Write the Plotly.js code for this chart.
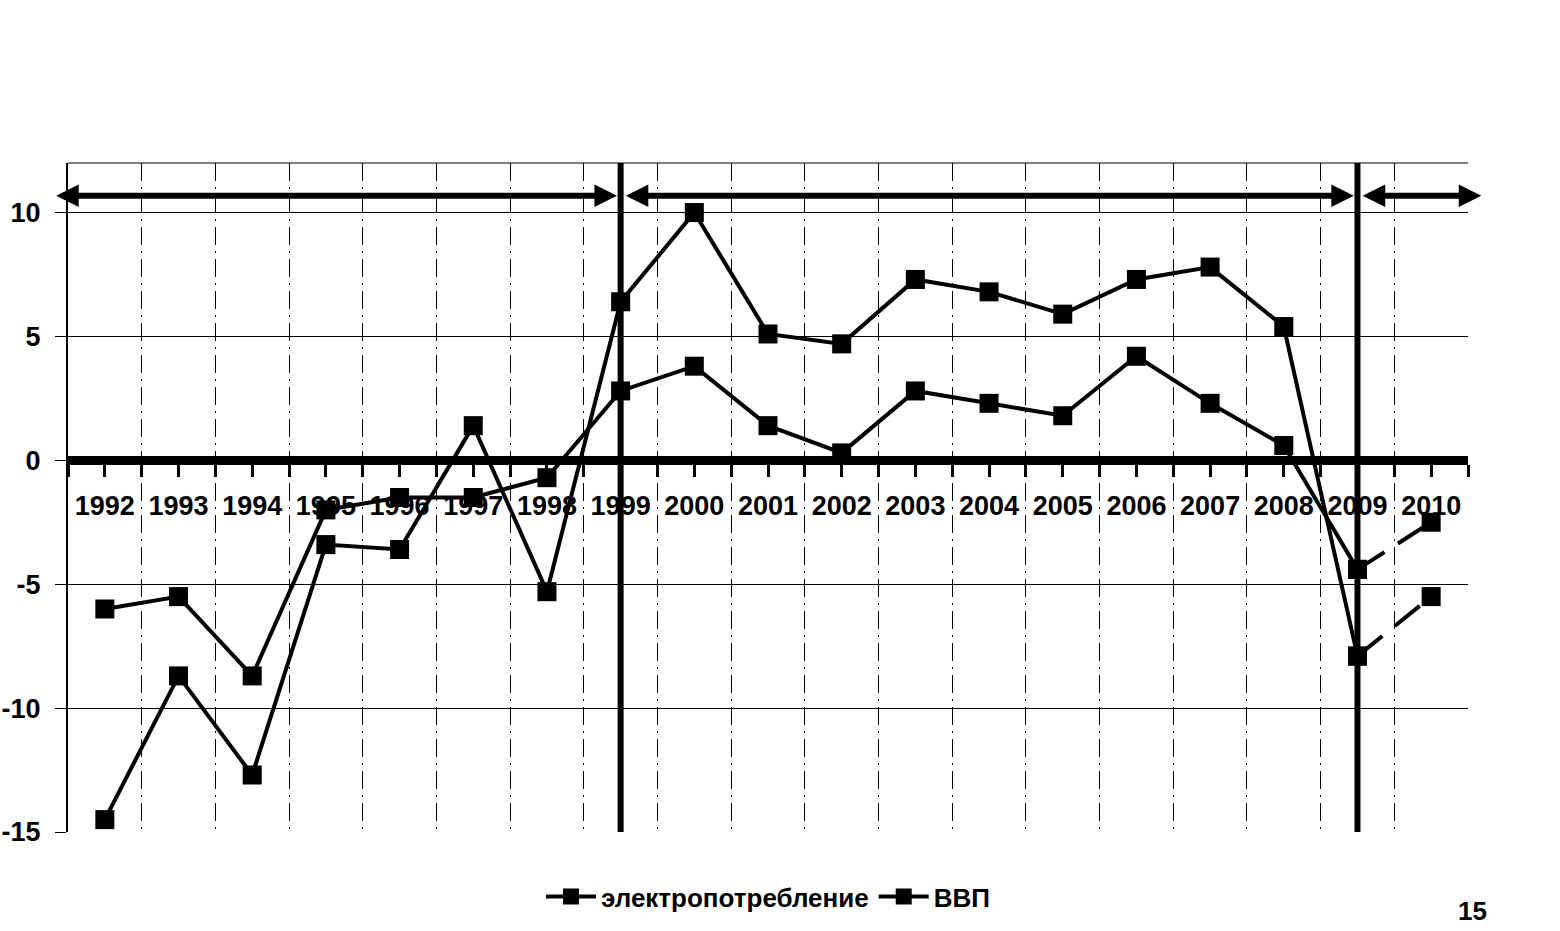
<!DOCTYPE html>
<html><head><meta charset="utf-8">
<script src="https://cdn.plot.ly/plotly-3.0.1.min.js"></script>
<style>html,body{margin:0;padding:0;background:#fff}#chart{width:1560px;height:931px}</style>
</head><body><div id="chart"></div>
<script>
// ---- data ----
const years = [1992,1993,1994,1995,1996,1997,1998,1999,2000,2001,2002,2003,2004,2005,2006,2007,2008,2009,2010];
const yearLabels = years.map(String);
const elec = [-6.0,-5.5,-8.7,-2.0,-1.5,-1.5,-0.7,2.8,3.8,1.4,0.3,2.8,2.3,1.8,4.2,2.3,0.6,-4.4,-2.5];
const gdp  = [-14.5,-8.7,-12.7,-3.4,-3.6,1.4,-5.3,6.4,10.0,5.1,4.7,7.3,6.8,5.9,7.3,7.8,5.4,-7.9,-5.5];
const seriesNames = ['электропотребление','ВВП'];
const periodMarks = [1999, 2009];
const yTicks = [-15,-10,-5,0,5,10];
const pageNumber = '15';

// ---- styling ----
const FONT = 'Liberation Sans Narrow, Arial Narrow, Liberation Sans, Arial, sans-serif';
const nSolid = years.length - 1; // last segment (forecast) dashed
const boundaries = years.map(y => y - 0.5).concat([years[years.length-1] + 0.5]);

function solid(name, vals, show) {
  return {x: years.slice(0, nSolid), y: vals.slice(0, nSolid), name: name, showlegend: show,
    type: 'scatter', mode: 'lines+markers', cliponaxis: false,
    line: {color: '#000', width: 4}, marker: {symbol: 'square', size: 19, color: '#000'}};
}
function dashed(name, vals) {
  return {x: years.slice(nSolid - 1), y: vals.slice(nSolid - 1), name: name, showlegend: false,
    type: 'scatter', mode: 'lines+markers', cliponaxis: false,
    line: {color: '#000', width: 4, dash: '32px,16px'}, marker: {symbol: 'square', size: 19, color: '#000'}};
}
const traces = [solid(seriesNames[0], elec, true), solid(seriesNames[1], gdp, true),
                dashed(seriesNames[0], elec), dashed(seriesNames[1], gdp)];

const xMin = years[0] - 0.5, xMax = years[years.length-1] + 0.5;
const yMin = -15, yMax = 12;
const arrowY = 10.68;

const shapes = [
  {type: 'line', xref: 'paper', yref: 'paper', x0: 0, x1: 1, y0: 1, y1: 1, line: {color: '#000', width: 1}},
];
periodMarks.forEach(p => shapes.push({type: 'line', x0: p, x1: p, y0: yMax + 0.1, y1: yMin - 0.1,
  line: {color: '#000', width: 6}}));

function arrow(x0, x1) {
  return {x: x1, y: arrowY, ax: x0, ay: arrowY, xref: 'x', yref: 'y', axref: 'x', ayref: 'y',
    text: '', showarrow: true, arrowside: 'end+start', arrowhead: 2, arrowsize: 0.75,
    arrowwidth: 6, arrowcolor: '#000', standoff: 0, startstandoff: 0};
}
const annotations = [
  arrow(xMin - 0.18, periodMarks[0] - 0.05),
  arrow(periodMarks[0] + 0.05, periodMarks[1] - 0.05),
  arrow(periodMarks[1] + 0.05, xMax + 0.18),
  {text: pageNumber, xref: 'paper', yref: 'paper', x: 1.003, y: -0.118, xanchor: 'center', yanchor: 'middle',
   showarrow: false, font: {family: FONT, size: 26, color: '#000', weight: 'bold'}}
];

const layout = {
  width: 1560, height: 931,
  margin: {l: 68, r: 92, t: 163, b: 98},
  paper_bgcolor: '#fff', plot_bgcolor: '#fff',
  showlegend: true,
  legend: {orientation: 'h', x: 0.5, xanchor: 'center', y: -0.06, yanchor: 'top',
    font: {family: FONT, size: 26, color: '#000', weight: 'bold'}, itemwidth: 50, tracegroupgap: 0},
  xaxis: {
    type: 'linear', range: [xMin, xMax], anchor: 'free', position: (0 - yMin) / (yMax - yMin),
    tickmode: 'array', tickvals: years, ticktext: yearLabels,
    ticks: 'outside', ticklen: 12, tickwidth: 3, tickcolor: '#000', ticklabelstandoff: 5,
    showline: true, linewidth: 9, linecolor: '#000', showgrid: false, zeroline: false,
    tickfont: {family: FONT, size: 27, color: '#000', weight: 'bold'},
    minor: {tickmode: 'array', tickvals: boundaries, ticks: 'outside', ticklen: 12, tickwidth: 3, tickcolor: '#000',
      showgrid: true, gridcolor: '#000', gridwidth: 1, griddash: '18px,6px,2px,6px'}
  },
  yaxis: {
    range: [yMin, yMax], tickmode: 'array', tickvals: yTicks, ticktext: yTicks.map(String),
    ticks: 'outside', ticklen: 11, tickwidth: 1, tickcolor: '#000', ticklabelstandoff: 9,
    showline: true, linewidth: 2, linecolor: '#000',
    showgrid: true, gridcolor: '#000', gridwidth: 1, zeroline: false,
    tickfont: {family: FONT, size: 27, color: '#000', weight: 'bold'}
  },
  shapes: shapes,
  annotations: annotations
};

Plotly.newPlot('chart', traces, layout, {displayModeBar: false, staticPlot: true});
</script>
</body></html>
